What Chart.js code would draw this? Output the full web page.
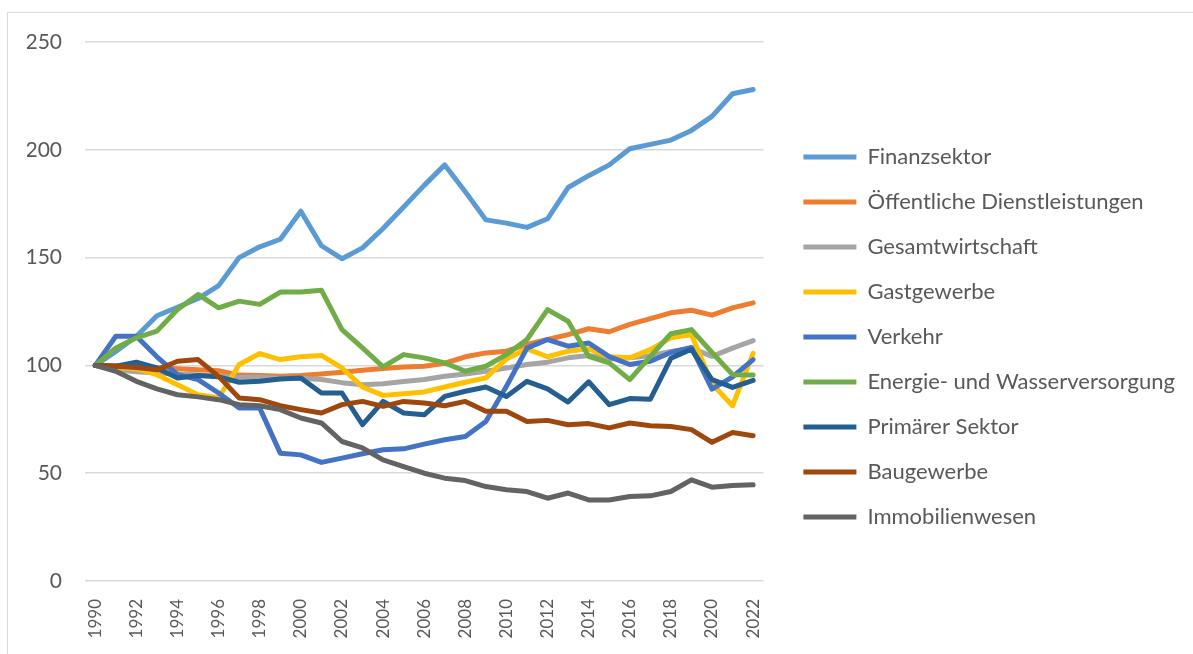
<!DOCTYPE html>
<html>
<head>
<meta charset="utf-8">
<script src="https://cdn.jsdelivr.net/npm/chart.js@4.4.1/dist/chart.umd.min.js"></script>
<style>
  body { margin: 0; background: #fff; }
  #frame { position: absolute; left: 7px; top: 12px; width: 1300px; height: 800px; border: 1.5px solid #d9d9d9; }
  #myChart { position: absolute; left: 0; top: 0; }
</style>
</head>
<body>
<div id="frame"></div>
<canvas id="myChart" width="1193" height="654"></canvas>
<script>
const years = ['1990','1991','1992','1993','1994','1995','1996','1997','1998','1999','2000','2001','2002','2003','2004','2005','2006','2007','2008','2009','2010','2011','2012','2013','2014','2015','2016','2017','2018','2019','2020','2021','2022'];

const finanzsektor = [100, 106.5, 113.5, 123, 127, 131, 137, 150, 155, 158.5, 171.5, 155.5, 149.5, 154.5, 163.5, 173.5, 183.5, 193, 180.5, 167.5, 166, 164, 168, 182.5, 188, 193, 200.5, 202.5, 204.5, 209, 215.5, 226, 228];
const oeffentlich = [100, 99.8, 99.5, 99, 98.5, 98, 97.5, 95.5, 95.3, 95, 95.3, 96, 96.8, 97.7, 98.6, 99.3, 99.6, 101, 104, 105.8, 106.6, 109.7, 112, 114.3, 117, 115.6, 119, 121.7, 124.4, 125.6, 123.3, 126.7, 129];
const gesamt = [100, 98, 97, 96.5, 96, 95.5, 95, 94.5, 94.5, 94, 94, 93.5, 92, 91, 91.5, 92.5, 93.5, 95, 96, 97.3, 98.8, 100.4, 101.5, 103.5, 104.6, 103, 103.5, 104.5, 106.5, 108, 104.2, 108, 111.5];
const gastgewerbe = [100, 99, 98.5, 95.7, 91, 86.4, 85, 100.4, 105.5, 102.7, 104, 104.6, 98.8, 90, 86.1, 86.9, 87.7, 90, 92.2, 94.2, 103, 107.7, 104, 106.6, 107.7, 104, 103.5, 107.3, 112.8, 114.3, 91.5, 81.3, 105.6];
const verkehr = [100, 113.5, 113.5, 104, 95.7, 93.4, 87.2, 80.2, 80.2, 59.3, 58.5, 55, 57, 59, 60.9, 61.3, 63.5, 65.5, 67, 74, 90.3, 108, 112, 108.9, 110.4, 104.1, 100.4, 101.9, 106, 108.3, 89, 94.7, 102.7];
const energie = [100, 108.1, 112.8, 115.9, 125.9, 132.9, 126.7, 129.8, 128.3, 134, 134, 134.9, 116.6, 108.1, 99.3, 105, 103.5, 101.2, 97.3, 99.6, 105, 112, 125.9, 120.5, 104.2, 101.2, 93.4, 104.2, 114.7, 116.6, 106, 95.7, 95.5];
const primaer = [100, 99.6, 101.5, 98.8, 94.2, 95.3, 94.7, 92.2, 92.6, 93.7, 94.2, 87.2, 87.2, 72.5, 83.3, 77.9, 77.1, 85.6, 88, 90, 85.6, 92.6, 89.1, 83, 92.4, 81.8, 84.6, 84.3, 103.3, 107.5, 93.4, 89.8, 93.1];
const baugewerbe = [100, 99.6, 99, 98, 101.9, 102.7, 94.9, 84.9, 84.1, 81.3, 79.5, 77.9, 81.8, 83.3, 81, 83.3, 82.6, 81.3, 83.3, 78.7, 78.7, 74, 74.5, 72.5, 73, 71, 73.3, 72, 71.7, 70.2, 64.3, 68.9, 67.4];
const immobilien = [100, 97.3, 92.6, 89.1, 86.4, 85.4, 84.1, 81.8, 81.3, 79.5, 75.6, 73.3, 64.7, 61.7, 56.2, 53.1, 50, 47.7, 46.6, 43.8, 42.3, 41.5, 38.4, 40.8, 37.6, 37.6, 39.2, 39.5, 41.5, 46.9, 43.5, 44.3, 44.6];

const seriesNames = ['Finanzsektor', 'Öffentliche Dienstleistungen', 'Gesamtwirtschaft', 'Gastgewerbe', 'Verkehr', 'Energie- und Wasserversorgung', 'Primärer Sektor', 'Baugewerbe', 'Immobilienwesen'];
const seriesData = [finanzsektor, oeffentlich, gesamt, gastgewerbe, verkehr, energie, primaer, baugewerbe, immobilien];
const colors = ['#5B9BD5', '#ED7D31', '#A5A5A5', '#FFC000', '#4472C4', '#70AD47', '#255E91', '#9E480E', '#636363'];

const textColor = '#595959';
const fontName = 'Lato';

const ctx = document.getElementById('myChart');

// later series are painted on top, like in the original
const datasets = seriesNames.map((name, i) => ({
    label: name,
    data: seriesData[i],
    borderColor: colors[i],
    backgroundColor: colors[i],
    borderWidth: 5,
    borderCapStyle: 'round',
    borderJoinStyle: 'round',
    pointRadius: 0,
    tension: 0,
    order: seriesNames.length - i
}));

new Chart(ctx, {
    type: 'line',
    data: {
        labels: years,
        datasets: datasets
    },
    options: {
        responsive: false,
        animation: false,
        devicePixelRatio: 1,
        layout: {
            padding: { left: 27, top: 42, right: 8, bottom: 0 }
        },
        plugins: {
            tooltip: { enabled: false },
            legend: {
                position: 'right',
                fullSize: false,
                maxWidth: 600,
                // empty title only pushes the entries down a bit
                title: { display: true, text: '', font: { size: 10 }, padding: 19.5 },
                labels: {
                    usePointStyle: true,
                    pointStyle: 'line',
                    pointStyleWidth: 53,
                    padding: 23,
                    color: textColor,
                    font: { family: fontName, size: 22 },
                    sort: (a, b) => a.datasetIndex - b.datasetIndex
                }
            }
        },
        scales: {
            x: {
                offset: true,
                grid: { display: false, drawTicks: false },
                border: { display: false },
                afterFit: function (scale) { scale.height = 73; },
                ticks: {
                    autoSkip: false,
                    maxRotation: 90,
                    minRotation: 90,
                    padding: 18,
                    color: textColor,
                    font: { family: fontName, size: 17 },
                    callback: function (value, index) {
                        return index % 2 === 0 ? years[index] : '';
                    }
                }
            },
            y: {
                min: 0,
                max: 250,
                grid: { color: '#d9d9d9', lineWidth: 1.5, drawTicks: false },
                border: { display: false },
                afterFit: function (scale) { scale.width = 58; },
                ticks: {
                    stepSize: 50,
                    padding: 23,
                    color: textColor,
                    font: { family: fontName, size: 21 }
                }
            },
            y2: {
                type: 'linear',
                position: 'right',
                grid: { display: false },
                border: { display: false },
                ticks: { display: false },
                afterFit: function (scale) { scale.width = 17; }
            }
        }
    }
});
</script>
</body>
</html>
